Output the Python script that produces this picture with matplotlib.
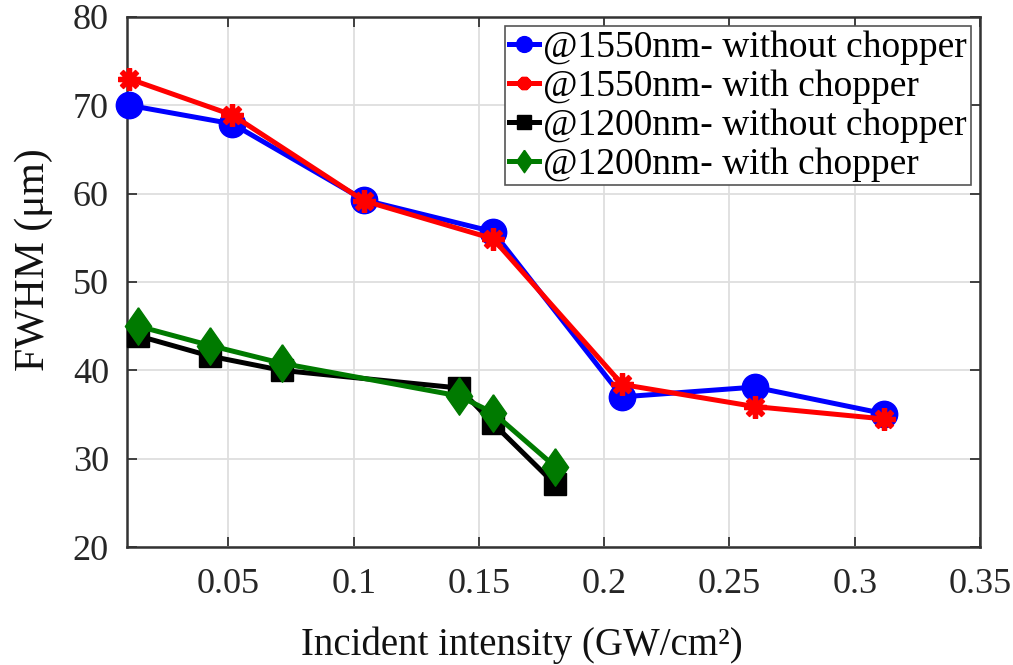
import matplotlib
matplotlib.use("Agg")
import matplotlib.pyplot as plt

plt.rcParams['font.family'] = 'serif'
plt.rcParams['font.serif'] = ['Liberation Serif', 'DejaVu Serif']
FONT = 'Liberation Serif'

# Incident intensity (GW/cm^2) and FWHM (um) for each measurement series
x_1550_wo = [0.0104, 0.0516, 0.104, 0.1556, 0.2072, 0.260, 0.3116]
y_1550_wo = [70.0, 67.9, 59.3, 55.7, 37.0, 38.1, 35.1]

x_1550_w = [0.0104, 0.0516, 0.104, 0.1556, 0.2072, 0.260, 0.3116]
y_1550_w = [73.0, 68.9, 59.2, 54.9, 38.4, 35.9, 34.5]

x_1200_wo = [0.014, 0.0428, 0.0712, 0.142, 0.1556, 0.1804]
y_1200_wo = [43.9, 41.6, 40.0, 38.0, 34.0, 27.1]

x_1200_w = [0.014, 0.0428, 0.0712, 0.142, 0.1556, 0.1804]
y_1200_w = [45.0, 42.8, 40.8, 37.1, 35.2, 29.1]

labels = ["@1550nm- without chopper", "@1550nm- with chopper",
          "@1200nm- without chopper", "@1200nm- with chopper"]
xticks = [0.05, 0.1, 0.15, 0.2, 0.25, 0.3, 0.35]
xtick_labels = ["0.05", "0.1", "0.15", "0.2", "0.25", "0.3", "0.35"]
yticks = [20, 30, 40, 50, 60, 70, 80]

# tall diamond marker
tall_diamond = [(0, 1), (0.7, 0), (0, -1), (-0.7, 0), (0, 1)]

fig = plt.figure(figsize=(10.13, 6.65), dpi=100)
ax = fig.add_axes([127 / 1013, 1 - 547 / 665, (980 - 127) / 1013, (547 - 17) / 665])

lw = 3.6
ax.plot(x_1550_wo, y_1550_wo, color='#0000ff', lw=lw, marker='o', ms=19,
        label=labels[0], zorder=3, clip_on=False)
ax.plot(x_1550_w, y_1550_w, color='#ff0000', lw=lw, marker=(8, 2, 0), ms=16,
        mew=3.8, label=labels[1], zorder=4, clip_on=False)
ax.plot(x_1200_wo, y_1200_wo, color='#000000', lw=lw, marker='s', ms=16,
        label=labels[2], zorder=3, clip_on=False)
ax.plot(x_1200_w, y_1200_w, color='#007a00', lw=lw, marker=tall_diamond, ms=27,
        label=labels[3], zorder=4, clip_on=False)

ax.set_xlim(0.0095, 0.35)
ax.set_ylim(20, 80)
ax.set_xticks(xticks)
ax.set_xticklabels(xtick_labels, fontfamily=FONT)
ax.set_yticks(yticks)
ax.set_yticklabels([str(v) for v in yticks], fontfamily=FONT)
ax.grid(True, color='#dedede', lw=1.3)
ax.set_axisbelow(True)
ax.tick_params(direction='in', length=7, width=1.3, labelsize=26,
               top=True, right=True, colors='#333333', labelcolor='#262626')
ax.tick_params(axis='x', pad=15)
ax.tick_params(axis='y', pad=13)
for s in ax.spines.values():
    s.set_linewidth(1.8)
    s.set_color('#333333')

ax.set_xlabel("Incident intensity (GW/cm²)", fontsize=28, color='#111111',
              fontfamily=FONT)
ax.xaxis.set_label_coords(522 / 1013, 1 - 655 / 665, transform=fig.transFigure)
ax.xaxis.label.set_va('baseline')

ax.set_ylabel("FWHM (μm)", fontsize=30, color='#111111', fontfamily=FONT)
ax.yaxis.set_label_coords(15 / 1013, 1 - 260 / 665, transform=fig.transFigure)
ax.yaxis.label.set_va('top')

leg = ax.legend(loc='upper right', markerscale=0.6,
                prop={'family': FONT, 'size': 27},
                handlelength=0.8, handletextpad=0.12, borderpad=0.1,
                labelspacing=0.12, borderaxespad=0.25, fancybox=False,
                framealpha=1, edgecolor='#555555')
leg.get_frame().set_linewidth(1.2)
leg.set_zorder(10)

fig.savefig("out.png", dpi=100)
